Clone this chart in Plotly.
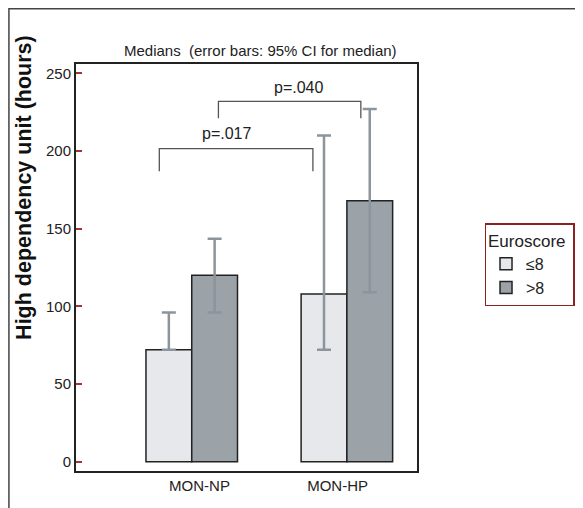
import plotly.graph_objects as go

categories = ["MON-NP", "MON-HP"]
groups = ["≤8", ">8"]
median_le8 = [72, 108]
median_gt8 = [120, 168]
ci_low_le8 = [72, 72]
ci_high_le8 = [96, 210]
ci_low_gt8 = [96, 109]
ci_high_gt8 = [143.5, 227]
y_ticks = [0, 50, 100, 150, 200, 250]

# significance brackets: (x_left, x_right, y_bottom, y_top, label, label_x, label_y)
brackets = [(-0.209, 0.781, 187, 201.5, "p=.017", 0.226, 211),
            (0.172, 1.090, 221, 232, "p=.040", 0.689, 241)]

xs = list(range(len(categories)))
colors = ["#e7e8eb", "#9ba2a8"]
err_col = "#8c959b"
FONT = "Liberation Sans, Arial, sans-serif"

fig = go.Figure()
for name, med, lo, hi, col in [(groups[0], median_le8, ci_low_le8, ci_high_le8, colors[0]),
                               (groups[1], median_gt8, ci_low_gt8, ci_high_gt8, colors[1])]:
    fig.add_trace(go.Bar(
        x=xs, y=med, name=name,
        marker=dict(color=col, line=dict(color="#222222", width=1.5)),
        error_y=dict(type="data", symmetric=False,
                     array=[h - m for h, m in zip(hi, med)],
                     arrayminus=[m - l for m, l in zip(med, lo)],
                     color=err_col, thickness=2.5, width=7),
    ))

shapes = []
annotations = []
for xl, xr, yb, yt, lab, tx, ty in brackets:
    shapes.append(dict(type="path", xref="x", yref="y",
                       path=f"M {xl},{yb} L {xl},{yt} L {xr},{yt} L {xr},{yb}",
                       line=dict(color="#555555", width=1.3)))
    annotations.append(dict(x=tx, y=ty, xref="x", yref="y", text=lab, showarrow=False,
                            font=dict(size=16, color="#222222", family=FONT)))

# outer frame (left and top edges)
shapes.append(dict(type="path", xref="paper", yref="paper",
                   path="M -0.1967,-0.2 L -0.1967,1.1358 L 1.8,1.1358",
                   line=dict(color="#444444", width=1.5)))

annotations.append(dict(x=0.541, y=1.034, xref="paper", yref="paper", yanchor="middle",
                        text="Medians  (error bars: 95% CI for median)", showarrow=False,
                        font=dict(size=15, color="#222222", family=FONT)))
annotations.append(dict(x=-0.152, y=0.696, xref="paper", yref="paper",
                        xanchor="center", yanchor="middle",
                        text="<b>High dependency unit (hours)</b>", showarrow=False, textangle=-90,
                        font=dict(size=21.5, color="#111111", family=FONT)))

fig.update_layout(
    width=575, height=500,
    margin=dict(l=68, r=166, t=56, b=37, pad=0, autoexpand=False),
    paper_bgcolor="white", plot_bgcolor="white",
    barmode="group", bargap=0.41, bargroupgap=0,
    showlegend=True,
    legend=dict(title=dict(text="Euroscore\u00a0", font=dict(size=17)),
                x=1.198, xanchor="left", y=0.609, yanchor="top",
                bordercolor="#8b2222", borderwidth=1.5, bgcolor="white",
                font=dict(size=16, color="#222222", family=FONT),
                itemwidth=30, tracegroupgap=0),
    font=dict(family=FONT, color="#222222"),
    shapes=shapes, annotations=annotations,
)
fig.update_xaxes(range=[-0.746, 1.452], tickvals=[0.05, 0.94], ticktext=categories,
                 showline=True, linecolor="#222222", linewidth=2, mirror=True,
                 showgrid=False, zeroline=False, ticks="",
                 tickfont=dict(size=15, color="#222222"))
fig.update_yaxes(range=[-6, 256], tickvals=y_ticks,
                 showline=True, linecolor="#222222", linewidth=2, mirror=True,
                 showgrid=False, zeroline=False, ticks="inside", ticklen=6,
                 tickcolor="#a83232", tickwidth=1.5,
                 tickfont=dict(size=15, color="#222222"))

fig.write_html("out.html")
